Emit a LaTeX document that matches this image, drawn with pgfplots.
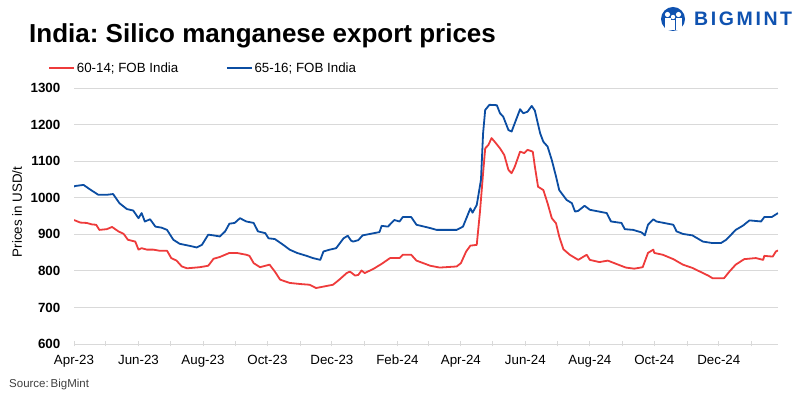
\documentclass[border=0pt]{standalone}
\usepackage{pgfplots}
\pgfplotsset{compat=1.18}
\usepackage{fontspec}
\setmainfont{Liberation Sans}
\frenchspacing
\definecolor{redl}{HTML}{EE3B3B}
\definecolor{bluel}{HTML}{0B4DA2}
\definecolor{gridgray}{HTML}{D9D9D9}
\definecolor{logoblue}{HTML}{0F52B0}
\newcommand\fs{\fontsize{13.33}{16}\selectfont}
\begin{document}
\begin{tikzpicture}[x=1pt,y=1pt]
\useasboundingbox (0,0) rectangle (799,398);
% title
\node[anchor=base west, inner sep=0pt, font=\fontsize{26}{30}\selectfont\bfseries] at (29,355) {India: Silico manganese export prices};
% logo
\fill[logoblue] (673,379) circle (12);
\fill[white] (667.5,383.5) circle (2.6);
\fill[white] (678.5,383.5) circle (2.6);
\fill[white] (673,381) circle (2.2);
\fill[white] (664.5,379.5) rectangle (670.5,368);
\fill[white] (675.5,379.5) rectangle (681.5,368);
\fill[white] (671.2,377.5) rectangle (674.8,367.5);
\node[anchor=base west, inner sep=0pt, text=logoblue, font=\fontsize{19.5}{22}\selectfont\bfseries] at (694,372) {B\hspace{2.6pt}I\hspace{2.6pt}G\hspace{2.6pt}M\hspace{2.6pt}I\hspace{2.6pt}N\hspace{2.6pt}T};
% y label
\node[rotate=90, inner sep=0pt, font=\fs] at (17,186) {Prices in USD/t};
% source
\node[anchor=base west, inner sep=0pt, text=black!75, font=\fontsize{11.5}{14}\selectfont] at (9,10) {Source:\,BigMint};
\begin{axis}[
  at={(74pt,54pt)}, anchor=south west, scale only axis,
  width=704pt, height=256pt,
  xmin=0, xmax=666, ymin=600, ymax=1300,
  ytick={600,700,...,1300},
  ymajorgrids, grid style={draw=gridgray, line width=0.9pt},
  axis line style={draw=none},
  xtick={0,30,61,91,122,153,183,214,244,275,306,335,366,396,427,457,488,519,549,580,610,641},
  xticklabels={Apr-23,,Jun-23,,Aug-23,,Oct-23,,Dec-23,,Feb-24,,Apr-24,,Jun-24,,Aug-24,,Oct-24,,Dec-24,},
  xtick pos=bottom, tick align=center, major tick length=5pt,
  xtick style={draw=gridgray, line width=0.9pt},
  ytick style={draw=none},
  /pgf/number format/assume math mode=true,
  /pgf/number format/set thousands separator={},
  yticklabel style={font=\fs\bfseries, inner sep=0pt, anchor=east, xshift=-11pt},
  xticklabel style={font=\fs, inner sep=0pt, anchor=north, yshift=-8pt},
  legend style={at={(axis description cs:-0.037,1.078)}, anchor=west, draw=none, fill=none,
    inner sep=0pt, legend columns=2, font=\fs,
    /tikz/every even column/.append style={column sep=46pt},
    nodes={inner sep=1.5pt}},
  legend image code/.code={\draw[#1, line width=2.2pt] (0pt,0pt) -- (25pt,0pt);},
  legend cell align=left,
]
\addplot[redl, line width=1.8pt, line join=round] table {
0 939
6 932
12 931
17 927
21 926
24 912
31 914
36 920
42 908
47 901
51 885
58 880
61 858
64 862
69 858
75 858
81 855
88 855
92 835
97 828
102 812
107 807
119 810
127 814
132 833
138 838
147 849
154 849
163 844
166 841
170 821
176 810
185 817
190 798
195 776
204 767
214 764
223 762
229 753
236 757
245 762
251 776
258 794
261 798
266 787
269 789
272 801
275 794
283 805
291 819
299 835
308 835
311 844
319 844
324 828
337 814
346 809
362 812
366 821
371 853
375 869
381 871
384 960
387 1067
389 1135
392 1144
395 1163
398 1153
403 1135
407 1117
411 1076
414 1067
417 1085
422 1126
426 1122
429 1131
434 1126
436 1085
439 1030
444 1021
448 985
452 944
456 930
459 894
463 859
469 844
477 830
485 844
488 830
497 824
505 828
513 819
522 809
530 806
538 810
543 849
548 858
549 849
557 844
567 832
576 817
585 808
595 794
600 787
604 780
615 780
620 798
626 817
634 832
645 835
652 830
653 841
661 839
664 853
666 856
};
\addlegendentry{60-14; FOB India}
\addplot[bluel, line width=1.8pt, line join=round] table {
0 1030
1 1032
9 1035
15 1023
23 1008
31 1008
37 1010
43 985
50 969
56 965
61 944
64 958
67 935
72 941
77 921
83 918
88 912
94 885
100 874
110 868
116 864
121 871
127 899
132 897
138 894
143 908
147 929
152 931
157 944
163 935
170 931
174 908
181 903
184 889
190 887
198 871
204 858
211 849
220 841
226 835
233 830
236 853
242 858
248 862
255 889
259 896
262 883
264 880
269 884
273 897
289 906
291 923
297 921
303 939
308 935
311 947
319 947
324 926
337 917
343 912
362 912
368 921
375 971
377 959
381 980
385 1049
387 1176
389 1240
393 1254
400 1253
403 1231
406 1222
411 1185
414 1181
417 1204
422 1242
425 1231
429 1235
433 1251
436 1238
438 1213
441 1176
444 1153
448 1140
452 1103
456 1058
459 1021
466 994
471 985
474 962
477 964
483 978
488 967
504 958
508 935
518 931
521 914
529 912
537 905
540 897
543 926
548 941
551 935
567 926
570 908
576 901
585 897
595 880
604 876
612 876
617 885
626 912
633 924
639 938
650 935
653 947
660 947
666 958
};
\addlegendentry{65-16; FOB India}
\end{axis}
\end{tikzpicture}
\end{document}
